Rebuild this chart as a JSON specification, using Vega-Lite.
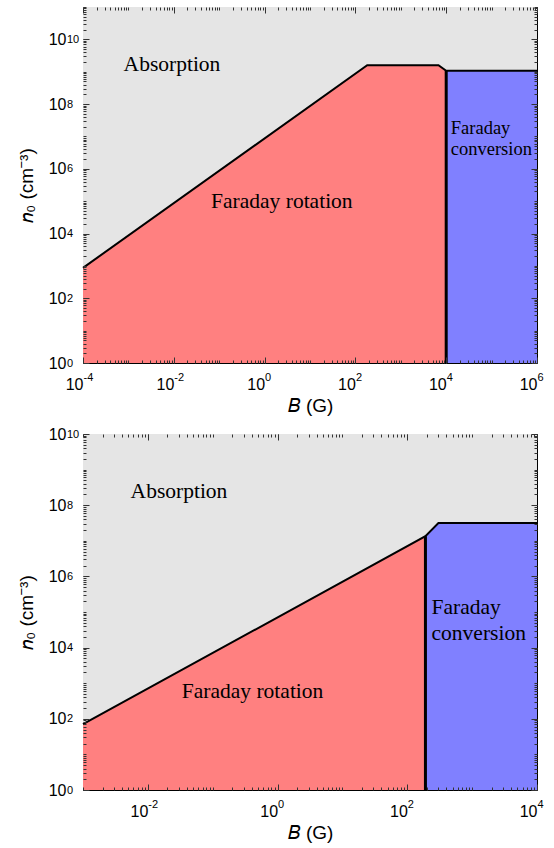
{
  "$schema": "https://vega.github.io/schema/vega-lite/v6.json",
  "padding": {"left": 16, "top": 6, "right": 8, "bottom": 4},
  "spacing": 9,
  "config": {
    "view": {"stroke": "#000000", "strokeWidth": 1},
    "axis": {"domain": false, "grid": false, "tickColor": "#333333", "tickWidth": 1, "tickOpacity": 1, "labelFont": "Liberation Sans", "labelFontSize": 16, "labelColor": "#000000", "titleFont": "Liberation Sans", "titleFontSize": 19, "titleFontWeight": "normal", "titleColor": "#000000", "labelFlush": false, "labelOverlap": false},
    "text": {"font": "Liberation Serif", "color": "#000000"}
  },
  "datasets": {
    "top_red": [{"B": 0.0001, "n": 871}, {"B": 182, "n": 1585000000}, {"B": 6761, "n": 1585000000}, {"B": 10000, "n": 1070000000}],
    "top_blue": [{"B": 10000, "n": 1070000000}, {"B": 1000000, "n": 1070000000}],
    "top_line": [{"B": 0.0001, "n": 871}, {"B": 182, "n": 1585000000}, {"B": 6761, "n": 1585000000}, {"B": 10000, "n": 1070000000}, {"B": 1000000, "n": 1070000000}],
    "top_rule": [{"B": 10000, "n": 1070000000}],
    "top_text": [{"B": 0.00912, "n": 1585000000, "label": "Absorption"}, {"B": 2.4, "n": 93000, "label": "Faraday rotation"}],
    "top_text2": [{"B": 12600, "n": 17800000, "label": "Faraday"}, {"B": 12600, "n": 3980000, "label": "conversion"}],
    "bot_red": [{"B": 0.001, "n": 70.8}, {"B": 190.5, "n": 13500000}],
    "bot_blue": [{"B": 190.5, "n": 13500000}, {"B": 302, "n": 31600000}, {"B": 10000, "n": 31600000}],
    "bot_line": [{"B": 0.001, "n": 70.8}, {"B": 190.5, "n": 13500000}, {"B": 302, "n": 31600000}, {"B": 10000, "n": 31600000}],
    "bot_rule": [{"B": 190.5, "n": 13500000}],
    "bot_text": [{"B": 0.0302, "n": 240000000, "label": "Absorption"}, {"B": 0.412, "n": 550, "label": "Faraday rotation"}, {"B": 236.6, "n": 129000, "label": "Faraday"}, {"B": 236.6, "n": 24000, "label": "conversion"}]
  },
  "vconcat": [
    {
      "width": 454,
      "height": 356,
      "resolve": {"axis": {"x": "independent", "y": "independent"}},
      "layer": [
        {
          "data": {"name": "top_line"},
          "mark": {"type": "area", "color": "#e5e5e5"},
          "encoding": {
            "x": {"field": "B", "type": "quantitative", "scale": {"type": "log", "domain": [0.0001, 1000000], "nice": false}, "axis": null},
            "y": {"field": "n", "type": "quantitative", "scale": {"type": "log", "domain": [1, 100000000000], "nice": false}, "axis": null},
            "y2": {"datum": 100000000000}
          }
        },
        {
          "data": {"name": "top_red"},
          "mark": {"type": "area", "color": "#ff8080"},
          "encoding": {
            "x": {"field": "B", "type": "quantitative", "scale": {"type": "log", "domain": [0.0001, 1000000], "nice": false},
              "axis": {"orient": "bottom", "values": [0.0001, 0.01, 1, 100, 10000, 1000000], "ticks": false, "tickSize": 0, "labelPadding": 21, "labelBaseline": "middle", "labelAlign": "right", "labelDx": 2, "labelExpr": "'10'", "title": "𝐵 (G)", "titlePadding": 4}},
            "y": {"field": "n", "type": "quantitative", "scale": {"type": "log", "domain": [1, 100000000000], "nice": false},
              "axis": {"orient": "left", "values": [1, 100, 10000, 1000000, 100000000, 10000000000], "ticks": false, "tickSize": 0, "labelPadding": 17, "labelBaseline": "middle", "labelAlign": "right", "labelExpr": "'10'", "title": "𝑛₀ (cm⁻³)", "titlePadding": 12}},
            "y2": {"datum": 1}
          }
        },
        {
          "data": {"name": "top_blue"},
          "mark": {"type": "area", "color": "#8080ff"},
          "encoding": {
            "x": {"field": "B", "type": "quantitative", "scale": {"type": "log", "domain": [0.0001, 1000000], "nice": false},
              "axis": {"orient": "bottom", "values": [0.0001, 0.01, 1, 100, 10000, 1000000], "ticks": false, "tickSize": 0, "labelPadding": 14, "labelBaseline": "middle", "labelAlign": "left", "labelDx": 3, "labelFontSize": 11, "labelExpr": "replace(format(log(datum.value)/LN10,'.0f'),'−','-')", "title": null}},
            "y": {"field": "n", "type": "quantitative", "scale": {"type": "log", "domain": [1, 100000000000], "nice": false},
              "axis": {"orient": "left", "values": [1, 100, 10000, 1000000, 100000000, 10000000000], "ticks": false, "tickSize": 0, "labelPadding": 16.5, "labelBaseline": "middle", "labelAlign": "left", "labelDy": -6, "labelFontSize": 11, "labelExpr": "replace(format(log(datum.value)/LN10,'.0f'),'−','-')", "title": null}},
            "y2": {"datum": 1}
          }
        },
        {
          "data": {"name": "top_line"},
          "mark": {"type": "line", "color": "#000000", "strokeWidth": 2},
          "encoding": {
            "x": {"field": "B", "type": "quantitative", "scale": {"type": "log", "domain": [0.0001, 1000000], "nice": false},
              "axis": {"orient": "bottom", "zindex": 2, "ticks": true, "labels": false, "title": null, "tickSize": 6, "offset": -6, "values": [0.0001, 0.01, 1, 100, 10000, 1000000]}},
            "y": {"field": "n", "type": "quantitative", "scale": {"type": "log", "domain": [1, 100000000000], "nice": false},
              "axis": {"orient": "left", "zindex": 2, "ticks": true, "labels": false, "title": null, "tickSize": 6, "offset": -6, "values": [1, 100, 10000, 1000000, 100000000, 10000000000]}}
          }
        },
        {
          "data": {"name": "top_rule"},
          "mark": {"type": "rule", "color": "#000000", "strokeWidth": 3},
          "encoding": {
            "x": {"field": "B", "type": "quantitative", "scale": {"type": "log", "domain": [0.0001, 1000000], "nice": false},
              "axis": {"orient": "bottom", "zindex": 2, "ticks": true, "labels": false, "title": null, "tickSize": 3, "offset": -3,
                "values": [0.0001,0.0002,0.0003,0.0004,0.0005,0.0006,0.0007,0.0008,0.0009,0.001,0.002,0.003,0.004,0.005,0.006,0.007,0.008,0.009,0.01,0.02,0.03,0.04,0.05,0.06,0.07,0.08,0.09,0.1,0.2,0.3,0.4,0.5,0.6,0.7,0.8,0.9,1,2,3,4,5,6,7,8,9,10,20,30,40,50,60,70,80,90,100,200,300,400,500,600,700,800,900,1000,2000,3000,4000,5000,6000,7000,8000,9000,10000,20000,30000,40000,50000,60000,70000,80000,90000,100000,200000,300000,400000,500000,600000,700000,800000,900000,1000000]}},
            "y": {"field": "n", "type": "quantitative", "scale": {"type": "log", "domain": [1, 100000000000], "nice": false},
              "axis": {"orient": "left", "zindex": 2, "ticks": true, "labels": false, "title": null, "tickSize": 3, "offset": -3,
                "values": [1,2,3,4,5,6,7,8,9,10,20,30,40,50,60,70,80,90,100,200,300,400,500,600,700,800,900,1000,2000,3000,4000,5000,6000,7000,8000,9000,1e4,2e4,3e4,4e4,5e4,6e4,7e4,8e4,9e4,1e5,2e5,3e5,4e5,5e5,6e5,7e5,8e5,9e5,1e6,2e6,3e6,4e6,5e6,6e6,7e6,8e6,9e6,1e7,2e7,3e7,4e7,5e7,6e7,7e7,8e7,9e7,1e8,2e8,3e8,4e8,5e8,6e8,7e8,8e8,9e8,1e9,2e9,3e9,4e9,5e9,6e9,7e9,8e9,9e9,1e10,2e10,3e10,4e10,5e10,6e10,7e10,8e10,9e10,1e11]}},
            "y2": {"datum": 1}
          }
        },
        {
          "data": {"name": "top_text"},
          "mark": {"type": "text", "fontSize": 21.5, "align": "center", "baseline": "middle"},
          "encoding": {
            "x": {"field": "B", "type": "quantitative", "scale": {"type": "log", "domain": [0.0001, 1000000], "nice": false},
              "axis": {"orient": "top", "zindex": 2, "ticks": true, "labels": false, "title": null, "tickSize": 6, "offset": -6, "values": [0.0001, 0.01, 1, 100, 10000, 1000000]}},
            "y": {"field": "n", "type": "quantitative", "scale": {"type": "log", "domain": [1, 100000000000], "nice": false},
              "axis": {"orient": "right", "zindex": 2, "ticks": true, "labels": false, "title": null, "tickSize": 6, "offset": -6, "values": [1, 100, 10000, 1000000, 100000000, 10000000000]}},
            "text": {"field": "label"}
          }
        },
        {
          "data": {"name": "top_text2"},
          "mark": {"type": "text", "fontSize": 18.5, "align": "left", "baseline": "middle"},
          "encoding": {
            "x": {"field": "B", "type": "quantitative", "scale": {"type": "log", "domain": [0.0001, 1000000], "nice": false},
              "axis": {"orient": "top", "zindex": 2, "ticks": true, "labels": false, "title": null, "tickSize": 3, "offset": -3,
                "values": [0.0001,0.0002,0.0003,0.0004,0.0005,0.0006,0.0007,0.0008,0.0009,0.001,0.002,0.003,0.004,0.005,0.006,0.007,0.008,0.009,0.01,0.02,0.03,0.04,0.05,0.06,0.07,0.08,0.09,0.1,0.2,0.3,0.4,0.5,0.6,0.7,0.8,0.9,1,2,3,4,5,6,7,8,9,10,20,30,40,50,60,70,80,90,100,200,300,400,500,600,700,800,900,1000,2000,3000,4000,5000,6000,7000,8000,9000,10000,20000,30000,40000,50000,60000,70000,80000,90000,100000,200000,300000,400000,500000,600000,700000,800000,900000,1000000]}},
            "y": {"field": "n", "type": "quantitative", "scale": {"type": "log", "domain": [1, 100000000000], "nice": false},
              "axis": {"orient": "right", "zindex": 2, "ticks": true, "labels": false, "title": null, "tickSize": 3, "offset": -3,
                "values": [1,2,3,4,5,6,7,8,9,10,20,30,40,50,60,70,80,90,100,200,300,400,500,600,700,800,900,1000,2000,3000,4000,5000,6000,7000,8000,9000,1e4,2e4,3e4,4e4,5e4,6e4,7e4,8e4,9e4,1e5,2e5,3e5,4e5,5e5,6e5,7e5,8e5,9e5,1e6,2e6,3e6,4e6,5e6,6e6,7e6,8e6,9e6,1e7,2e7,3e7,4e7,5e7,6e7,7e7,8e7,9e7,1e8,2e8,3e8,4e8,5e8,6e8,7e8,8e8,9e8,1e9,2e9,3e9,4e9,5e9,6e9,7e9,8e9,9e9,1e10,2e10,3e10,4e10,5e10,6e10,7e10,8e10,9e10,1e11]}},
            "text": {"field": "label"}
          }
        }
      ]
    },
    {
      "width": 454,
      "height": 356,
      "resolve": {"axis": {"x": "independent", "y": "independent"}},
      "layer": [
        {
          "data": {"name": "bot_line"},
          "mark": {"type": "area", "color": "#e5e5e5"},
          "encoding": {
            "x": {"field": "B", "type": "quantitative", "scale": {"type": "log", "domain": [0.001, 10000], "nice": false}, "axis": null},
            "y": {"field": "n", "type": "quantitative", "scale": {"type": "log", "domain": [1, 10000000000], "nice": false}, "axis": null},
            "y2": {"datum": 10000000000}
          }
        },
        {
          "data": {"name": "bot_red"},
          "mark": {"type": "area", "color": "#ff8080"},
          "encoding": {
            "x": {"field": "B", "type": "quantitative", "scale": {"type": "log", "domain": [0.001, 10000], "nice": false},
              "axis": {"orient": "bottom", "values": [0.01, 1, 100, 10000], "ticks": false, "tickSize": 0, "labelPadding": 21, "labelBaseline": "middle", "labelAlign": "right", "labelDx": 2, "labelExpr": "'10'", "title": "𝐵 (G)", "titlePadding": 4}},
            "y": {"field": "n", "type": "quantitative", "scale": {"type": "log", "domain": [1, 10000000000], "nice": false},
              "axis": {"orient": "left", "values": [1, 100, 10000, 1000000, 100000000, 10000000000], "ticks": false, "tickSize": 0, "labelPadding": 17, "labelBaseline": "middle", "labelAlign": "right", "labelExpr": "'10'", "title": "𝑛₀ (cm⁻³)", "titlePadding": 12}},
            "y2": {"datum": 1}
          }
        },
        {
          "data": {"name": "bot_blue"},
          "mark": {"type": "area", "color": "#8080ff"},
          "encoding": {
            "x": {"field": "B", "type": "quantitative", "scale": {"type": "log", "domain": [0.001, 10000], "nice": false},
              "axis": {"orient": "bottom", "values": [0.01, 1, 100, 10000], "ticks": false, "tickSize": 0, "labelPadding": 14, "labelBaseline": "middle", "labelAlign": "left", "labelDx": 3, "labelFontSize": 11, "labelExpr": "replace(format(log(datum.value)/LN10,'.0f'),'−','-')", "title": null}},
            "y": {"field": "n", "type": "quantitative", "scale": {"type": "log", "domain": [1, 10000000000], "nice": false},
              "axis": {"orient": "left", "values": [1, 100, 10000, 1000000, 100000000, 10000000000], "ticks": false, "tickSize": 0, "labelPadding": 16.5, "labelBaseline": "middle", "labelAlign": "left", "labelDy": -6, "labelFontSize": 11, "labelExpr": "replace(format(log(datum.value)/LN10,'.0f'),'−','-')", "title": null}},
            "y2": {"datum": 1}
          }
        },
        {
          "data": {"name": "bot_line"},
          "mark": {"type": "line", "color": "#000000", "strokeWidth": 2},
          "encoding": {
            "x": {"field": "B", "type": "quantitative", "scale": {"type": "log", "domain": [0.001, 10000], "nice": false},
              "axis": {"orient": "bottom", "zindex": 2, "ticks": true, "labels": false, "title": null, "tickSize": 6, "offset": -6, "values": [0.01, 1, 100, 10000]}},
            "y": {"field": "n", "type": "quantitative", "scale": {"type": "log", "domain": [1, 10000000000], "nice": false},
              "axis": {"orient": "left", "zindex": 2, "ticks": true, "labels": false, "title": null, "tickSize": 6, "offset": -6, "values": [1, 100, 10000, 1000000, 100000000, 10000000000]}}
          }
        },
        {
          "data": {"name": "bot_rule"},
          "mark": {"type": "rule", "color": "#000000", "strokeWidth": 3},
          "encoding": {
            "x": {"field": "B", "type": "quantitative", "scale": {"type": "log", "domain": [0.001, 10000], "nice": false},
              "axis": {"orient": "bottom", "zindex": 2, "ticks": true, "labels": false, "title": null, "tickSize": 3, "offset": -3,
                "values": [0.001,0.002,0.003,0.004,0.005,0.006,0.007,0.008,0.009,0.01,0.02,0.03,0.04,0.05,0.06,0.07,0.08,0.09,0.1,0.2,0.3,0.4,0.5,0.6,0.7,0.8,0.9,1,2,3,4,5,6,7,8,9,10,20,30,40,50,60,70,80,90,100,200,300,400,500,600,700,800,900,1000,2000,3000,4000,5000,6000,7000,8000,9000,10000]}},
            "y": {"field": "n", "type": "quantitative", "scale": {"type": "log", "domain": [1, 10000000000], "nice": false},
              "axis": {"orient": "left", "zindex": 2, "ticks": true, "labels": false, "title": null, "tickSize": 3, "offset": -3,
                "values": [1,2,3,4,5,6,7,8,9,10,20,30,40,50,60,70,80,90,100,200,300,400,500,600,700,800,900,1000,2000,3000,4000,5000,6000,7000,8000,9000,1e4,2e4,3e4,4e4,5e4,6e4,7e4,8e4,9e4,1e5,2e5,3e5,4e5,5e5,6e5,7e5,8e5,9e5,1e6,2e6,3e6,4e6,5e6,6e6,7e6,8e6,9e6,1e7,2e7,3e7,4e7,5e7,6e7,7e7,8e7,9e7,1e8,2e8,3e8,4e8,5e8,6e8,7e8,8e8,9e8,1e9,2e9,3e9,4e9,5e9,6e9,7e9,8e9,9e9,1e10]}},
            "y2": {"datum": 1}
          }
        },
        {
          "data": {"name": "bot_text"},
          "transform": [{"filter": "datum.label == 'Absorption' || datum.label == 'Faraday rotation'"}],
          "mark": {"type": "text", "fontSize": 21.5, "align": "center", "baseline": "middle"},
          "encoding": {
            "x": {"field": "B", "type": "quantitative", "scale": {"type": "log", "domain": [0.001, 10000], "nice": false},
              "axis": {"orient": "top", "zindex": 2, "ticks": true, "labels": false, "title": null, "tickSize": 6, "offset": -6, "values": [0.01, 1, 100, 10000]}},
            "y": {"field": "n", "type": "quantitative", "scale": {"type": "log", "domain": [1, 10000000000], "nice": false},
              "axis": {"orient": "right", "zindex": 2, "ticks": true, "labels": false, "title": null, "tickSize": 6, "offset": -6, "values": [1, 100, 10000, 1000000, 100000000, 10000000000]}},
            "text": {"field": "label"}
          }
        },
        {
          "data": {"name": "bot_text"},
          "transform": [{"filter": "datum.label == 'Faraday' || datum.label == 'conversion'"}],
          "mark": {"type": "text", "fontSize": 21.5, "align": "left", "baseline": "middle"},
          "encoding": {
            "x": {"field": "B", "type": "quantitative", "scale": {"type": "log", "domain": [0.001, 10000], "nice": false},
              "axis": {"orient": "top", "zindex": 2, "ticks": true, "labels": false, "title": null, "tickSize": 3, "offset": -3,
                "values": [0.001,0.002,0.003,0.004,0.005,0.006,0.007,0.008,0.009,0.01,0.02,0.03,0.04,0.05,0.06,0.07,0.08,0.09,0.1,0.2,0.3,0.4,0.5,0.6,0.7,0.8,0.9,1,2,3,4,5,6,7,8,9,10,20,30,40,50,60,70,80,90,100,200,300,400,500,600,700,800,900,1000,2000,3000,4000,5000,6000,7000,8000,9000,10000]}},
            "y": {"field": "n", "type": "quantitative", "scale": {"type": "log", "domain": [1, 10000000000], "nice": false},
              "axis": {"orient": "right", "zindex": 2, "ticks": true, "labels": false, "title": null, "tickSize": 3, "offset": -3,
                "values": [1,2,3,4,5,6,7,8,9,10,20,30,40,50,60,70,80,90,100,200,300,400,500,600,700,800,900,1000,2000,3000,4000,5000,6000,7000,8000,9000,1e4,2e4,3e4,4e4,5e4,6e4,7e4,8e4,9e4,1e5,2e5,3e5,4e5,5e5,6e5,7e5,8e5,9e5,1e6,2e6,3e6,4e6,5e6,6e6,7e6,8e6,9e6,1e7,2e7,3e7,4e7,5e7,6e7,7e7,8e7,9e7,1e8,2e8,3e8,4e8,5e8,6e8,7e8,8e8,9e8,1e9,2e9,3e9,4e9,5e9,6e9,7e9,8e9,9e9,1e10]}},
            "text": {"field": "label"}
          }
        }
      ]
    }
  ]
}
